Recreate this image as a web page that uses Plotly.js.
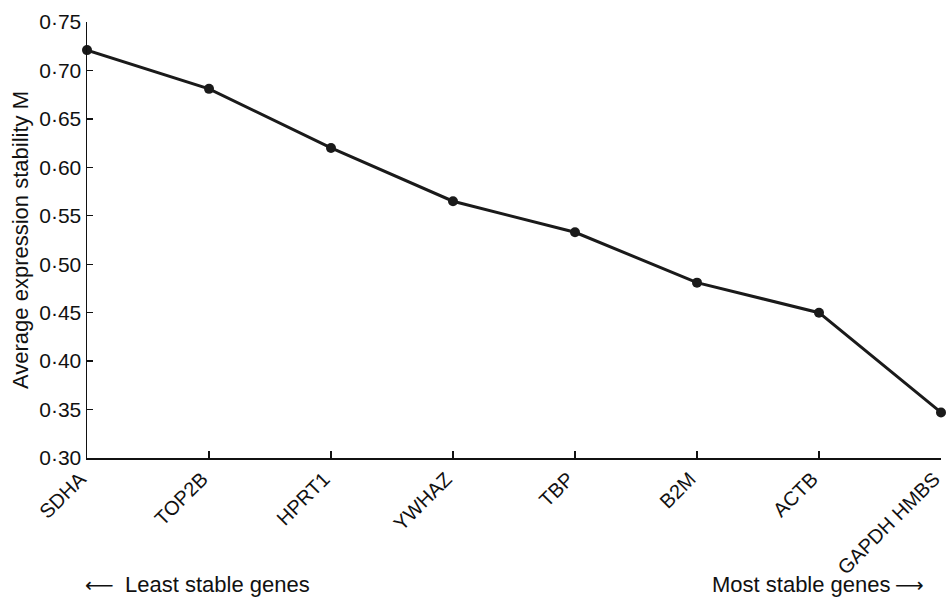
<!DOCTYPE html>
<html>
<head>
<meta charset="utf-8">
<script src="https://cdn.plot.ly/plotly-3.0.1.min.js"></script>
<style>html,body{margin:0;padding:0;background:#fff;}#chart{width:946px;height:597px;}</style>
</head>
<body>
<div id="chart"></div>
<script>
const genes = ["SDHA", "TOP2B", "HPRT1", "YWHAZ", "TBP", "B2M", "ACTB", "GAPDH HMBS"];
const stabilityM = [0.721, 0.681, 0.620, 0.565, 0.533, 0.481, 0.450, 0.347];
const yTickVals = [0.30, 0.35, 0.40, 0.45, 0.50, 0.55, 0.60, 0.65, 0.70, 0.75];
const yTickText = ["0·30", "0·35", "0·40", "0·45", "0·50", "0·55", "0·60", "0·65", "0·70", "0·75"];

const trace = {
  x: genes,
  y: stabilityM,
  type: "scatter",
  mode: "lines+markers",
  line: {color: "#1a1a1a", width: 3},
  marker: {color: "#1a1a1a", size: 10},
  cliponaxis: false,
  hoverinfo: "skip"
};

const arrowFont = {family: "DejaVu Sans", size: 20, color: "#111"};
const noteFont = {size: 22, color: "#111"};

const layout = {
  width: 946,
  height: 597,
  margin: {l: 87, r: 5, t: 22, b: 139},
  paper_bgcolor: "#fff",
  plot_bgcolor: "#fff",
  showlegend: false,
  font: {family: "Liberation Sans, Arial, sans-serif", size: 21, color: "#111"},
  xaxis: {
    type: "category",
    range: [0, 7],
    automargin: false,
    showgrid: false,
    zeroline: false,
    showline: true,
    linecolor: "#111",
    linewidth: 1.5,
    ticks: "inside",
    ticklen: 7,
    tickwidth: 1.3,
    tickcolor: "#111",
    tickangle: -45,
    ticklabelshift: -7,
    tickfont: {size: 20, color: "#111"}
  },
  yaxis: {
    range: [0.30, 0.75],
    automargin: false,
    tickvals: yTickVals,
    ticktext: yTickText,
    showgrid: false,
    zeroline: false,
    showline: true,
    linecolor: "#111",
    linewidth: 1.5,
    ticks: "inside",
    ticklen: 6,
    tickwidth: 1.3,
    tickcolor: "#111",
    tickfont: {size: 21, color: "#111"},
    title: {text: "Average expression stability M", font: {size: 22, color: "#111"}, standoff: 4}
  },
  annotations: [
    {text: "⟵", xref: "paper", yref: "paper", x: 0.015, y: -0.291, xanchor: "center", yanchor: "middle", showarrow: false, font: arrowFont},
    {text: "Least stable genes", xref: "paper", yref: "paper", x: 0.042, y: -0.291, xanchor: "left", yanchor: "middle", showarrow: false, font: noteFont},
    {text: "Most stable genes", xref: "paper", yref: "paper", x: 0.944, y: -0.291, xanchor: "right", yanchor: "middle", showarrow: false, font: noteFont},
    {text: "⟶", xref: "paper", yref: "paper", x: 0.963, y: -0.291, xanchor: "center", yanchor: "middle", showarrow: false, font: arrowFont}
  ]
};

Plotly.newPlot("chart", [trace], layout, {displayModeBar: false, staticPlot: true});
</script>
</body>
</html>
